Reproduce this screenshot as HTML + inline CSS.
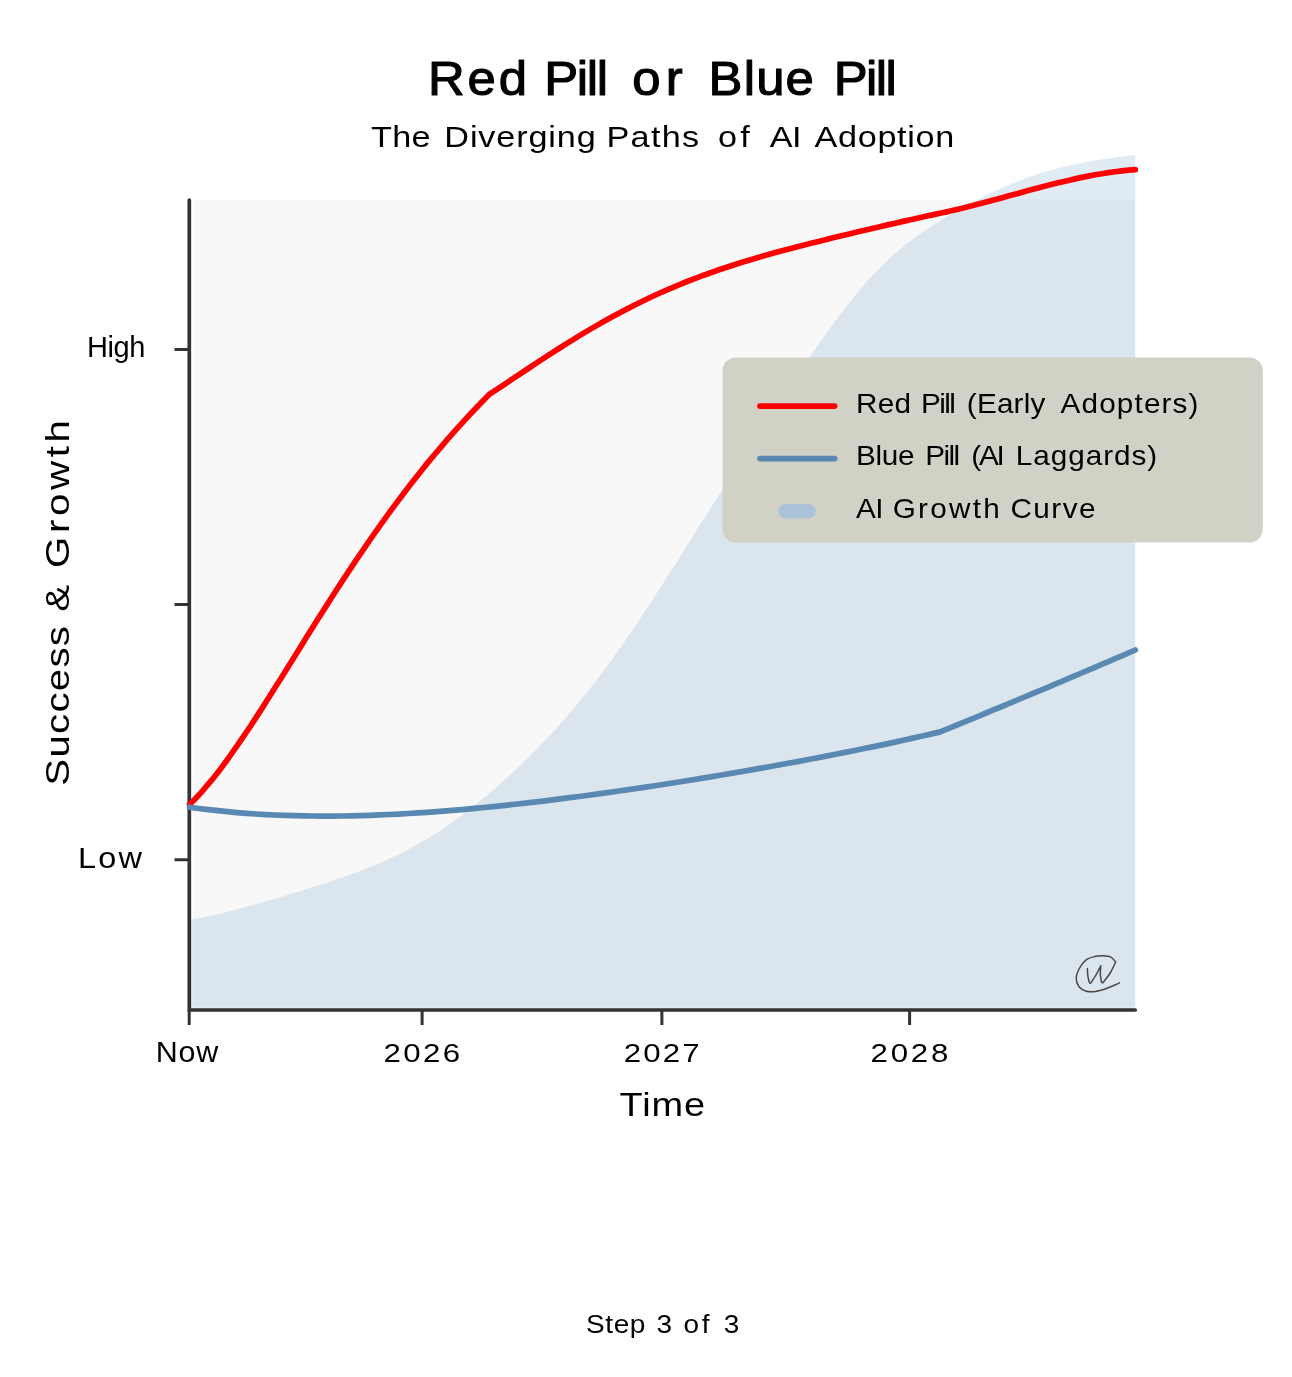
<!DOCTYPE html>
<html lang="en"><head><meta charset="utf-8"><title>Red Pill or Blue Pill</title>
<style>
html,body{margin:0;padding:0;background:#fff}
body{width:1292px;height:1377px;overflow:hidden}
svg{display:block}
text{font-family:"Liberation Sans",sans-serif;fill:#000;white-space:pre}
</style></head><body>
<svg width="1292" height="1377" viewBox="0 0 1292 1377">
<rect width="1292" height="1377" fill="#fff"/>
<rect x="189" y="199.6" width="946.3" height="812" rx="5" ry="5" fill="#f8f8f8"/>
<path d="M189.3,200 V1009.9 H1135.3" fill="none" stroke="#fff" stroke-width="7.4" stroke-linecap="round" stroke-linejoin="round"/>
<path d="M189.3,920.0 L193.6,919.2 L197.9,918.4 L202.3,917.5 L206.6,916.6 L210.9,915.7 L215.2,914.7 L219.5,913.7 L223.9,912.7 L228.2,911.6 L232.5,910.5 L236.8,909.4 L241.1,908.3 L245.4,907.1 L249.8,906.0 L254.1,904.8 L258.4,903.5 L262.7,902.3 L267.0,901.1 L271.4,899.8 L275.7,898.5 L280.0,897.2 L284.3,895.9 L288.6,894.6 L293.0,893.3 L297.3,892.0 L301.6,890.7 L305.9,889.3 L310.2,888.0 L314.6,886.6 L318.9,885.3 L323.2,883.9 L327.5,882.5 L331.8,881.1 L336.2,879.6 L340.5,878.2 L344.8,876.7 L349.1,875.1 L353.4,873.6 L357.7,872.0 L362.1,870.3 L366.4,868.6 L370.7,866.9 L375.0,865.1 L379.3,863.3 L383.7,861.4 L388.0,859.5 L392.3,857.5 L396.6,855.4 L400.9,853.3 L405.3,851.1 L409.6,848.8 L413.9,846.5 L418.2,844.1 L422.5,841.6 L426.9,839.1 L431.2,836.4 L435.5,833.7 L439.8,830.9 L444.1,828.0 L448.5,825.1 L452.8,822.0 L457.1,818.9 L461.4,815.8 L465.7,812.5 L470.0,809.2 L474.4,805.8 L478.7,802.3 L483.0,798.8 L487.3,795.2 L491.6,791.5 L496.0,787.8 L500.3,784.0 L504.6,780.1 L508.9,776.1 L513.2,772.1 L517.6,768.0 L521.9,763.9 L526.2,759.7 L530.5,755.4 L534.8,751.0 L539.2,746.6 L543.5,742.1 L547.8,737.6 L552.1,732.9 L556.4,728.2 L560.7,723.4 L565.1,718.5 L569.4,713.5 L573.7,708.4 L578.0,703.3 L582.3,698.0 L586.7,692.7 L591.0,687.3 L595.3,681.7 L599.6,676.1 L603.9,670.4 L608.3,664.6 L612.6,658.6 L616.9,652.6 L621.2,646.5 L625.5,640.3 L629.9,634.0 L634.2,627.6 L638.5,621.2 L642.8,614.7 L647.1,608.1 L651.5,601.5 L655.8,594.8 L660.1,588.1 L664.4,581.3 L668.7,574.5 L673.0,567.7 L677.4,560.9 L681.7,554.0 L686.0,547.1 L690.3,540.3 L694.6,533.4 L699.0,526.5 L703.3,519.7 L707.6,512.8 L711.9,506.0 L716.2,499.2 L720.6,492.4 L724.9,485.6 L729.2,478.9 L733.5,472.1 L737.8,465.4 L742.2,458.7 L746.5,452.0 L750.8,445.4 L755.1,438.7 L759.4,432.1 L763.8,425.5 L768.1,419.0 L772.4,412.4 L776.7,405.9 L781.0,399.4 L785.3,392.9 L789.7,386.5 L794.0,380.1 L798.3,373.7 L802.6,367.4 L806.9,361.1 L811.3,354.8 L815.6,348.6 L819.9,342.4 L824.2,336.4 L828.5,330.3 L832.9,324.4 L837.2,318.6 L841.5,312.9 L845.8,307.3 L850.1,301.8 L854.5,296.4 L858.8,291.2 L863.1,286.1 L867.4,281.1 L871.7,276.3 L876.0,271.7 L880.4,267.3 L884.7,263.0 L889.0,259.0 L893.3,255.1 L897.6,251.3 L902.0,247.7 L906.3,244.2 L910.6,240.9 L914.9,237.7 L919.2,234.6 L923.6,231.6 L927.9,228.7 L932.2,225.8 L936.5,223.1 L940.8,220.4 L945.2,217.8 L949.5,215.3 L953.8,212.8 L958.1,210.3 L962.4,207.9 L966.8,205.5 L971.1,203.2 L975.4,200.9 L979.7,198.7 L984.0,196.5 L988.3,194.3 L992.7,192.3 L997.0,190.3 L1001.3,188.3 L1005.6,186.4 L1009.9,184.5 L1014.3,182.7 L1018.6,181.0 L1022.9,179.4 L1027.2,177.8 L1031.5,176.2 L1035.9,174.7 L1040.2,173.3 L1044.5,172.0 L1048.8,170.7 L1053.1,169.5 L1057.5,168.4 L1061.8,167.3 L1066.1,166.3 L1070.4,165.3 L1074.7,164.4 L1079.1,163.5 L1083.4,162.6 L1087.7,161.8 L1092.0,161.1 L1096.3,160.3 L1100.6,159.6 L1105.0,159.0 L1109.3,158.3 L1113.6,157.7 L1117.9,157.1 L1122.2,156.5 L1126.6,156.0 L1130.9,155.4 L1135.2,154.9 L1135.2,1010 L189.3,1010 Z" fill="#4682b4" fill-opacity="0.16"/>
<!-- watermark logo -->
<g fill="none" stroke="#4a4846" stroke-width="1.5" stroke-linecap="round" stroke-linejoin="round">
<path d="M1087.4,968.5 C1087.5,969.7 1087.5,973.2 1087.8,975.5 C1088.1,977.8 1089.0,981.2 1089.3,982.3 M1089.3,982.3 C1089.5,982.5 1089.9,983.4 1090.3,983.3 C1090.7,983.2 1090.8,983.1 1091.8,981.6 C1092.8,980.1 1095.0,976.6 1096.5,974.0 C1098.0,971.4 1100.1,967.2 1100.8,965.8 M1100.8,965.8 C1100.7,967.2 1100.2,971.3 1100.3,974.0 C1100.4,976.7 1101.3,980.7 1101.5,982.0 M1101.5,982.0 C1101.7,982.1 1102.1,983.0 1102.6,982.8 C1103.1,982.6 1103.0,982.7 1104.3,981.0 C1105.6,979.3 1108.6,975.7 1110.5,972.5 C1112.4,969.3 1114.8,963.8 1115.7,962.0 M1115.7,962.0 C1114.8,961.1 1112.7,957.9 1110.6,956.9 C1108.5,955.9 1105.7,955.8 1103.2,955.7 C1100.7,955.6 1098.5,955.6 1095.7,956.3 C1092.9,957.0 1089.2,957.6 1086.4,959.7 C1083.6,961.8 1080.7,965.9 1079.0,969.0 C1077.3,972.1 1076.2,975.3 1076.2,978.3 C1076.2,981.2 1077.3,984.5 1079.0,986.7 C1080.7,988.9 1083.6,990.5 1086.4,991.3 C1089.2,992.1 1092.6,991.8 1095.7,991.4 C1098.8,991.0 1101.9,990.0 1105.0,989.0 C1108.1,988.0 1111.9,986.3 1114.3,985.3 C1116.7,984.3 1118.6,983.3 1119.4,982.9"/>
</g>
<!-- axes -->
<g fill="none" stroke-linecap="round">
<g stroke="#333" stroke-width="3" stroke-linecap="butt">
<path d="M174.5,349.5H189M174.5,604.6H189M174.5,859.8H189"/>
<path d="M189.2,1010V1025M422.1,1010V1025M661.9,1010V1025M909.6,1010V1025"/>
</g>
<path d="M189.3,200 V1010 H1135.2" stroke="#333" stroke-width="3.7" stroke-linejoin="miter"/>
</g>
<!-- lines -->
<path d="M189.5,804.6 L195.6,798.5 L201.7,791.8 L207.8,784.7 L214.0,777.3 L220.1,769.4 L226.2,761.2 L232.3,752.7 L238.4,743.9 L244.5,734.9 L250.7,725.8 L256.8,716.4 L262.9,706.9 L269.0,697.3 L275.1,687.6 L281.2,677.9 L287.4,668.1 L293.5,658.3 L299.6,648.4 L305.7,638.6 L311.8,628.8 L317.9,619.1 L324.1,609.4 L330.2,599.8 L336.3,590.3 L342.4,580.9 L348.5,571.6 L354.6,562.4 L360.8,553.3 L366.9,544.4 L373.0,535.5 L379.1,526.8 L385.2,518.3 L391.3,509.9 L397.5,501.6 L403.6,493.5 L409.7,485.5 L415.8,477.7 L421.9,470.0 L428.0,462.4 L434.2,455.0 L440.3,447.8 L446.4,440.7 L452.5,433.7 L458.6,426.8 L464.7,420.1 L470.9,413.5 L477.0,407.0 L483.1,400.7 L489.2,394.4 L496.9,389.4 L504.5,384.3 L512.2,379.2 L519.8,374.1 L527.5,369.0 L535.2,363.9 L542.8,358.9 L550.5,353.9 L558.1,349.0 L565.8,344.1 L573.5,339.4 L581.1,334.7 L588.8,330.1 L596.5,325.6 L604.1,321.3 L611.8,317.0 L619.4,312.9 L627.1,308.9 L634.8,305.0 L642.4,301.2 L650.1,297.5 L657.7,294.0 L665.4,290.6 L673.1,287.3 L680.7,284.1 L688.4,281.0 L696.0,278.1 L703.7,275.2 L711.4,272.5 L719.0,269.8 L726.7,267.2 L734.4,264.7 L742.0,262.3 L749.7,260.0 L757.3,257.7 L765.0,255.5 L772.7,253.3 L780.3,251.2 L788.0,249.2 L795.6,247.2 L803.3,245.2 L811.0,243.3 L818.6,241.4 L826.3,239.5 L833.9,237.6 L841.6,235.8 L849.3,233.9 L856.9,232.1 L864.6,230.3 L872.3,228.5 L879.9,226.7 L887.6,224.9 L895.2,223.2 L902.9,221.4 L910.6,219.7 L918.2,218.0 L925.9,216.3 L933.5,214.6 L941.2,213.0 L947.9,211.6 L954.6,210.0 L961.3,208.4 L968.0,206.8 L974.7,205.1 L981.4,203.3 L988.1,201.6 L994.7,199.8 L1001.4,197.9 L1008.1,196.1 L1014.8,194.3 L1021.5,192.4 L1028.2,190.6 L1034.9,188.8 L1041.6,187.0 L1048.3,185.3 L1055.0,183.6 L1061.7,182.0 L1068.4,180.4 L1075.1,178.9 L1081.8,177.4 L1088.4,176.1 L1095.1,174.8 L1101.8,173.7 L1108.5,172.6 L1115.2,171.7 L1121.9,170.9 L1128.6,170.2 L1135.3,169.7" fill="none" stroke="#ff0000" stroke-width="5.7" stroke-linecap="round" stroke-linejoin="round"/>
<path d="M189.5,807.2 L199.0,808.5 L208.5,809.7 L218.0,810.7 L227.5,811.7 L237.0,812.6 L246.5,813.3 L256.0,814.0 L265.5,814.6 L275.0,815.0 L284.5,815.4 L294.0,815.7 L303.5,815.9 L313.0,816.0 L322.5,816.1 L332.0,816.1 L341.5,816.0 L351.0,815.8 L360.5,815.6 L370.0,815.3 L379.6,814.9 L389.1,814.5 L398.6,814.1 L408.1,813.5 L417.6,812.9 L427.1,812.3 L436.6,811.6 L446.1,810.9 L455.6,810.1 L465.1,809.3 L474.6,808.4 L484.1,807.5 L493.6,806.6 L503.1,805.6 L512.6,804.5 L522.1,803.5 L531.6,802.4 L541.1,801.3 L550.6,800.1 L560.1,798.9 L569.6,797.7 L579.1,796.5 L588.6,795.2 L598.1,793.9 L607.6,792.6 L617.1,791.3 L626.6,789.9 L636.1,788.5 L645.6,787.1 L655.1,785.7 L664.6,784.2 L674.1,782.7 L683.6,781.2 L693.1,779.7 L702.6,778.1 L712.1,776.6 L721.6,775.0 L731.1,773.4 L740.6,771.8 L750.1,770.1 L759.7,768.4 L769.2,766.8 L778.7,765.0 L788.2,763.3 L797.7,761.6 L807.2,759.8 L816.7,758.0 L826.2,756.1 L835.7,754.3 L845.2,752.4 L854.7,750.5 L864.2,748.5 L873.7,746.6 L883.2,744.6 L892.7,742.6 L902.2,740.5 L911.7,738.4 L921.2,736.3 L930.7,734.1 L940.2,731.9 L946.9,729.2 L953.7,726.4 L960.4,723.6 L967.1,720.9 L973.8,718.1 L980.6,715.3 L987.3,712.5 L994.0,709.7 L1000.7,707.0 L1007.5,704.2 L1014.2,701.4 L1020.9,698.5 L1027.7,695.7 L1034.4,692.9 L1041.1,690.1 L1047.8,687.3 L1054.6,684.4 L1061.3,681.6 L1068.0,678.7 L1074.8,675.9 L1081.5,673.0 L1088.2,670.2 L1094.9,667.3 L1101.7,664.4 L1108.4,661.6 L1115.1,658.7 L1121.8,655.8 L1128.6,652.9 L1135.3,650.0" fill="none" stroke="#5989b2" stroke-width="5.7" stroke-linecap="round" stroke-linejoin="round"/>
<!-- titles -->
<text y="95.3" stroke="#000" stroke-width="1.1" stroke-linejoin="round" font-size="48" transform="scale(1.06,1)"><tspan x="403.7" letter-spacing="2.74">Red</tspan> <tspan x="513.51" letter-spacing="-1.3">Pill</tspan> <tspan x="596.44" letter-spacing="4.98">or</tspan> <tspan x="668.51" letter-spacing="1.08">Blue</tspan> <tspan x="786.53" letter-spacing="-1.52">Pill</tspan></text>
<text y="146.6"  font-size="29.5" transform="scale(1.16,1)"><tspan x="319.91" letter-spacing="0.22">The</tspan> <tspan x="383.09" letter-spacing="0.73">Diverging</tspan> <tspan x="522.91" letter-spacing="1.07">Paths</tspan> <tspan x="618.98" letter-spacing="2.8">of</tspan> <tspan x="663.54" letter-spacing="-0.51">AI</tspan> <tspan x="702.24" letter-spacing="0.56">Adoption</tspan></text>
<!-- y tick labels -->
<text y="356.8"  font-size="29"><tspan x="87.0" letter-spacing="-0.44">High</tspan></text>
<text y="867.9"  font-size="29" transform="scale(1.12,1)"><tspan x="69.7" letter-spacing="1.91">Low</tspan></text>
<!-- x tick labels -->
<text y="1062.2"  font-size="29" transform="scale(1.05,1)"><tspan x="148.38" letter-spacing="0.8">Now</tspan></text>
<text y="1062.2"  font-size="26" transform="scale(1.2,1)"><tspan x="319.58" letter-spacing="2.04">2026</tspan></text>
<text y="1062.2"  font-size="26" transform="scale(1.2,1)"><tspan x="519.83" letter-spacing="1.76">2027</tspan></text>
<text y="1062.2"  font-size="26" transform="scale(1.2,1)"><tspan x="725.42" letter-spacing="2.32">2028</tspan></text>
<!-- axis labels -->
<text y="1115.6"  font-size="33" transform="scale(1.15,1)"><tspan x="538.7" letter-spacing="0.82">Time</tspan></text>
<text  font-size="33" transform="translate(69.1,800.0) rotate(-90) scale(1.22,1)"><tspan x="11.79" letter-spacing="1.01">Success</tspan> <tspan x="154.36" letter-spacing="0.0">&amp;</tspan> <tspan x="190.17" letter-spacing="2.98">Growth</tspan></text>
<!-- legend -->
<rect x="722.5" y="357.4" width="540.3" height="185.2" rx="13.5" ry="13.5" fill="#d2d1c6"/>
<path d="M760,406.1H834.6" stroke="#ff0000" stroke-width="5.8" stroke-linecap="round"/>
<path d="M760,458.6H834.6" stroke="#5989b2" stroke-width="5.8" stroke-linecap="round"/>
<rect x="778.3" y="503.9" width="37.5" height="14.5" rx="7.25" fill="#acc2da"/>
<text y="413.4"  font-size="27" transform="scale(1.1,1)"><tspan x="778.18" letter-spacing="0.29">Red</tspan> <tspan x="837.27" letter-spacing="-1.46">Pill</tspan> <tspan x="878.91" letter-spacing="0.18">(Early</tspan> <tspan x="964.18" letter-spacing="1.04">Adopters)</tspan></text>
<text y="465.5"  font-size="27" transform="scale(1.1,1)"><tspan x="778.18" letter-spacing="-0.25">Blue</tspan> <tspan x="841.09" letter-spacing="-1.4">Pill</tspan> <tspan x="883.0" letter-spacing="-2.0">(AI</tspan> <tspan x="923.36" letter-spacing="0.89">Laggards)</tspan></text>
<text y="518.2"  font-size="27" transform="scale(1.1,1)"><tspan x="778.2" letter-spacing="-0.49">AI</tspan> <tspan x="811.55" letter-spacing="2.09">Growth</tspan> <tspan x="918.55" letter-spacing="1.34">Curve</tspan></text>
<!-- footer -->
<text y="1332.8"  font-size="25" transform="scale(1.12,1)"><tspan x="523.29" letter-spacing="0.52">Step</tspan> <tspan x="586.22" letter-spacing="0.0">3</tspan> <tspan x="610.28" letter-spacing="2.46">of</tspan> <tspan x="646.27" letter-spacing="0.0">3</tspan></text>
</svg>
</body></html>
